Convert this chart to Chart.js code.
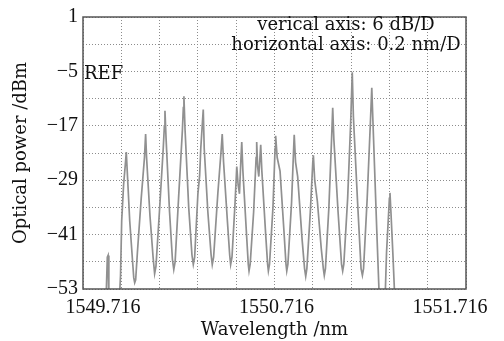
<!DOCTYPE html>
<html>
<head>
<meta charset="utf-8">
<script src="https://cdn.jsdelivr.net/npm/chart.js@4.4.1/dist/chart.umd.min.js"></script>
<style>
  body { margin: 0; background: #fff; }
</style>
</head>
<body>
<canvas id="myChart" width="504" height="341"></canvas>
<script>
// spectrum trace (nm, dBm); -56 = below the bottom of the screen
const wavelengths = [
  1549.716, 1549.836, 1549.843, 1549.847, 1549.851, 1549.905, 1549.912, 1549.918, 1549.928, 1549.938,
  1549.942, 1549.947, 1549.960, 1549.975, 1549.981, 1549.986, 1549.991, 1550.000, 1550.020, 1550.037,
  1550.043, 1550.048, 1550.066, 1550.082, 1550.090, 1550.097, 1550.115, 1550.135, 1550.141, 1550.144,
  1550.150, 1550.168, 1550.183, 1550.190, 1550.197, 1550.215, 1550.235, 1550.240, 1550.243, 1550.249,
  1550.268, 1550.285, 1550.292, 1550.299, 1550.316, 1550.325, 1550.331, 1550.340, 1550.344, 1550.349,
  1550.368, 1550.385, 1550.391, 1550.398, 1550.420, 1550.438, 1550.443, 1550.450, 1550.470, 1550.482,
  1550.487, 1550.494, 1550.510, 1550.519, 1550.526, 1550.533, 1550.541, 1550.545, 1550.551, 1550.570,
  1550.579, 1550.583, 1550.589, 1550.607, 1550.620, 1550.623, 1550.628, 1550.634, 1550.640, 1550.644,
  1550.650, 1550.670, 1550.680, 1550.684, 1550.690, 1550.708, 1550.719, 1550.722, 1550.730, 1550.745,
  1550.765, 1550.776, 1550.780, 1550.786, 1550.805, 1550.816, 1550.819, 1550.826, 1550.837, 1550.860,
  1550.873, 1550.879, 1550.885, 1550.903, 1550.916, 1550.919, 1550.926, 1550.940, 1550.960, 1550.971,
  1550.976, 1550.982, 1551.000, 1551.014, 1551.020, 1551.026, 1551.048, 1551.066, 1551.072, 1551.078,
  1551.098, 1551.114, 1551.122, 1551.128, 1551.150, 1551.168, 1551.175, 1551.181, 1551.200, 1551.216,
  1551.224, 1551.230, 1551.250, 1551.264, 1551.293, 1551.301, 1551.316, 1551.319, 1551.324, 1551.335,
  1551.345, 1551.716
];
const powers = [
  -56, -56, -46, -45.6, -56, -56, -50, -38, -30, -25,
  -22.8, -27, -38, -47, -50.5, -51.6, -51, -45, -33, -24,
  -18.8, -24, -37, -46, -49.6, -48, -36, -22, -17, -13.7,
  -20, -36, -46.5, -48.7, -47, -33, -18, -13, -10.5, -18,
  -35, -45.5, -47.6, -46, -32, -28, -22, -16, -13.4, -22,
  -36, -45.5, -47.6, -46, -32, -22, -18.8, -25, -38, -45.5,
  -47.6, -46, -34, -26, -30, -32, -24, -20.6, -27, -41,
  -47.5, -49, -47.5, -36, -24, -20.6, -26, -28.2, -24, -21.2,
  -27, -41, -47.5, -49, -47.5, -35, -22, -19.2, -24, -27,
  -40, -47.5, -49, -47.5, -34, -22, -19, -25, -28.2, -42,
  -48.5, -50.2, -48.5, -36, -25, -23.5, -29, -33.7, -44, -48.5,
  -50, -48.5, -35, -20, -13, -20, -36, -47.5, -49, -47.5,
  -33, -16, -5.2, -15, -34, -48.5, -50, -48.5, -33, -17,
  -8.6, -16, -40, -56, -56, -45, -33, -31.8, -36, -46,
  -56, -56
];

const yTickValues = [7, -5, -17, -29, -41, -53];
const yTickLabels = ['1', '\u22125', '\u221217', '\u221229', '\u221241', '\u221253'];
const xTickValues = [1549.716, 1550.716, 1551.716];
const xTickLabels = ['1549.716', '1550.716', '1551.716'];
const xLabelShift = [20, 2, -16];

const serif = '"DejaVu Serif", serif';
const numFont = '"Liberation Serif", "Times New Roman", serif';

const points = wavelengths.map((w, i) => ({ x: w, y: powers[i] }));

const frameAndText = {
    id: 'frameAndText',
    afterDraw(chart) {
        const ctx = chart.ctx;
        const a = chart.chartArea;
        const xs = chart.scales.x;
        ctx.save();
        ctx.strokeStyle = '#555';
        ctx.lineWidth = 1.5;
        ctx.strokeRect(a.left, a.top, a.right - a.left, a.bottom - a.top);

        ctx.fillStyle = '#111';
        ctx.font = '20px ' + numFont;
        ctx.textAlign = 'center';
        ctx.textBaseline = 'middle';
        xTickValues.forEach((v, i) => {
            ctx.fillText(xTickLabels[i], xs.getPixelForValue(v) + xLabelShift[i], a.bottom + 19);
        });

        ctx.font = '18px ' + serif;
        ctx.textBaseline = 'alphabetic';
        ctx.fillText('verical axis: 6 dB/D', 346, 30);
        ctx.fillText('horizontal axis: 0.2 nm/D', 346, 50);
        ctx.textAlign = 'left';
        ctx.fillText('REF', a.left + 1, 79);
        ctx.restore();
    }
};

new Chart(document.getElementById('myChart'), {
    type: 'line',
    data: {
        datasets: [{
            data: points,
            borderColor: '#909090',
            borderWidth: 1.7,
            pointRadius: 0,
            tension: 0,
            fill: false
        }]
    },
    options: {
        responsive: false,
        animation: false,
        layout: { padding: { top: 13, right: 38, left: 0, bottom: 0 } },
        plugins: { legend: { display: false }, tooltip: { enabled: false } },
        scales: {
            x: {
                type: 'linear',
                min: 1549.716,
                max: 1551.716,
                afterFit: s => { s.height = 52; },
                ticks: { stepSize: 0.2, callback: () => '' },
                grid: { color: '#8c8c8c', drawTicks: false },
                border: { display: false, dash: [1, 2] },
                title: {
                    display: true,
                    text: 'Wavelength /nm',
                    color: '#111',
                    font: { family: serif, size: 18 },
                    padding: { top: 0, bottom: 0 }
                }
            },
            y: {
                min: -53,
                max: 7,
                afterFit: s => { s.width = 83; },
                ticks: {
                    stepSize: 6,
                    padding: 5,
                    color: '#111',
                    font: { family: numFont, size: 20 },
                    callback: v => {
                        const i = yTickValues.findIndex(t => Math.abs(t - v) < 0.01);
                        return i >= 0 ? yTickLabels[i] : '';
                    }
                },
                grid: { color: '#8c8c8c', drawTicks: false },
                border: { display: false, dash: [1, 2] },
                title: {
                    display: true,
                    text: 'Optical power /dBm',
                    color: '#111',
                    font: { family: serif, size: 18 },
                    padding: { top: 11, bottom: 0 }
                }
            }
        }
    },
    plugins: [frameAndText]
});
</script>
</body>
</html>
